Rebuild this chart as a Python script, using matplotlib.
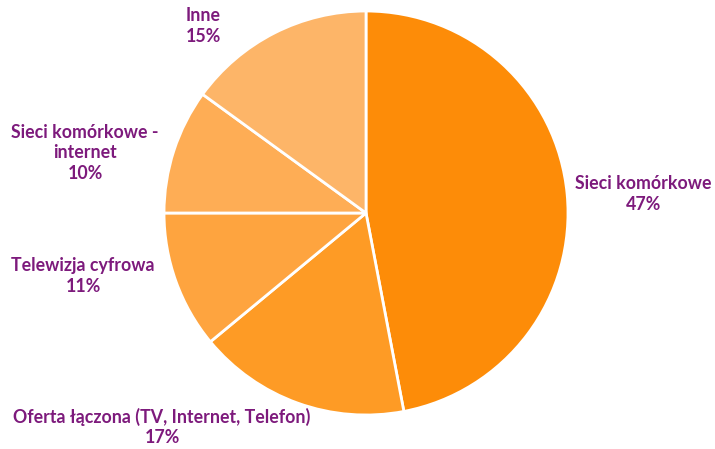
import matplotlib.pyplot as plt

# Udział kategorii (procent)
categories = ['Sieci komórkowe', 'Oferta łączona (TV, Internet, Telefon)',
              'Telewizja cyfrowa', 'Sieci komórkowe -\ninternet', 'Inne']
shares = [47, 17, 11, 10, 15]

colors = ['#FD8C08', '#FE9B25', '#FEA43F', '#FEAD55', '#FDB568']
text_color = '#7D1A7C'

plt.rcParams['font.family'] = ['Lato', 'DejaVu Sans']

fig = plt.figure(figsize=(7.15, 4.49), dpi=100)
ax = fig.add_axes([0.2294, 0.0757, 0.565, 0.8998])

ax.pie(shares, colors=colors, startangle=90, counterclock=False,
       wedgeprops=dict(edgecolor='white', linewidth=2))
ax.set_xlim(-1.0, 1.0)
ax.set_ylim(-1.0, 1.0)
ax.set_aspect('equal')
ax.axis('off')

# Pozycje etykiet w pikselach (x, y od góry)
label_pos = [(643, 194), (162, 427), (83, 276), (85, 153), (203, 26)]
W, H = 715, 449
for cat, val, (px, py) in zip(categories, shares, label_pos):
    fig.text(px / W, 1 - py / H, f'{cat}\n{val}%', ha='center', va='center',
             color=text_color, fontsize=12.8, fontweight='bold', linespacing=1.25)

fig.savefig('out.png', dpi=100)
